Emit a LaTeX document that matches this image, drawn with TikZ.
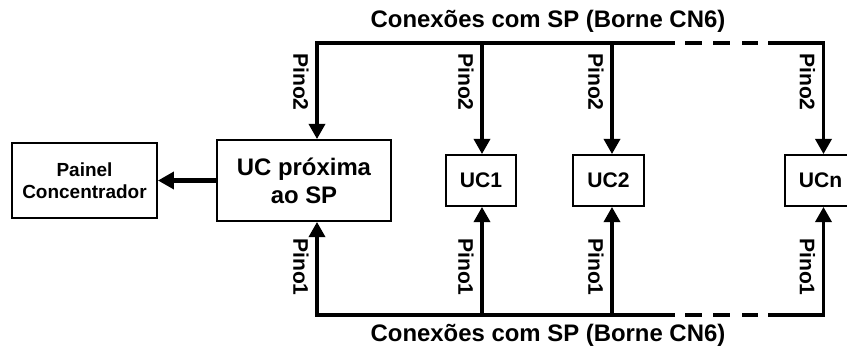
\documentclass[tikz,border=0pt]{standalone}
\usepackage{fontspec}
\setmainfont{Liberation Sans}
\usetikzlibrary{arrows.meta}

\tikzset{
  ucbox/.style={draw,line width=1.3pt,inner sep=0pt,align=center,font=\fontsize{15}{17}\selectfont\bfseries},
  bus/.style={line width=2.6pt,line cap=rect},
  busdash/.style={line width=2.6pt},
  pin/.style={line width=2.6pt,-{Triangle[length=3.8mm,width=4mm]}},
  pino/.style={rotate=-90,inner sep=0pt,font=\fontsize{15}{17}\selectfont\bfseries},
  busname/.style={inner sep=0pt,font=\fontsize{17}{19}\selectfont\bfseries}
}

\begin{document}
\begin{tikzpicture}

\useasboundingbox (0,0) rectangle (21.175,8.675);

\node[ucbox,minimum width=3.625cm,minimum height=1.875cm,font=\fontsize{13.5}{16}\selectfont\bfseries] (painel) at (2.1125,4.1625) {Painel\\Concentrador};
\node[ucbox,minimum width=4.35cm,minimum height=2.025cm,font=\fontsize{17}{20}\selectfont\bfseries] (ucprox) at (7.6,4.1625) {UC próxima\\ao SP};
\node[ucbox,minimum width=1.75cm,minimum height=1.275cm] (uc1) at (12.025,4.1625) {UC1};
\node[ucbox,minimum width=1.775cm,minimum height=1.275cm] (uc2) at (15.2125,4.1625) {UC2};
\node[ucbox,minimum width=1.775cm,minimum height=1.275cm] (ucn) at (20.5125,4.1625) {UCn};

\draw[line width=3pt,-{Triangle[length=4mm,width=4.2mm]}] (ucprox.west) -- (painel.east);

\foreach \nm/\x in {ucprox/7.925, uc1/12.05, uc2/15.3, ucn/20.5875} {
   \coordinate (top\nm) at (\x,7.6);
   \coordinate (bot\nm) at (\x,0.8);
   \draw[pin] (top\nm) -- (top\nm |- \nm.north);
   \draw[pin] (bot\nm) -- (bot\nm |- \nm.south);
   \node[pino] (ptop\nm) at (\x-0.4,6.625) {Pino2};
   \node[pino] (pbot\nm) at (\x-0.4,2.0) {Pino1};
}

% barramentos
\coordinate (topgapa) at (16.825,7.6);
\coordinate (topgapb) at (19.25,7.6);
\coordinate (botgapa) at (16.825,0.8);
\coordinate (botgapb) at (19.25,0.8);

\draw[bus] (topucprox) -- (topgapa);
\draw[bus] (topgapb) -- (topucn);
\draw[bus] (botucprox) -- (botgapa);
\draw[bus] (botgapb) -- (botucn);

\foreach \a/\b in {17.125/17.55, 17.825/18.25, 18.55/18.95} {
   \draw[busdash] (\a,7.6) -- (\b,7.6);
   \draw[busdash] (\a,0.8) -- (\b,0.8);
}

\node[busname] (toplbl) at (13.7,8.15) {Conexões com SP (Borne CN6)};
\node[busname] (botlbl) at (13.7,0.3) {Conexões com SP (Borne CN6)};

\end{tikzpicture}
\end{document}
